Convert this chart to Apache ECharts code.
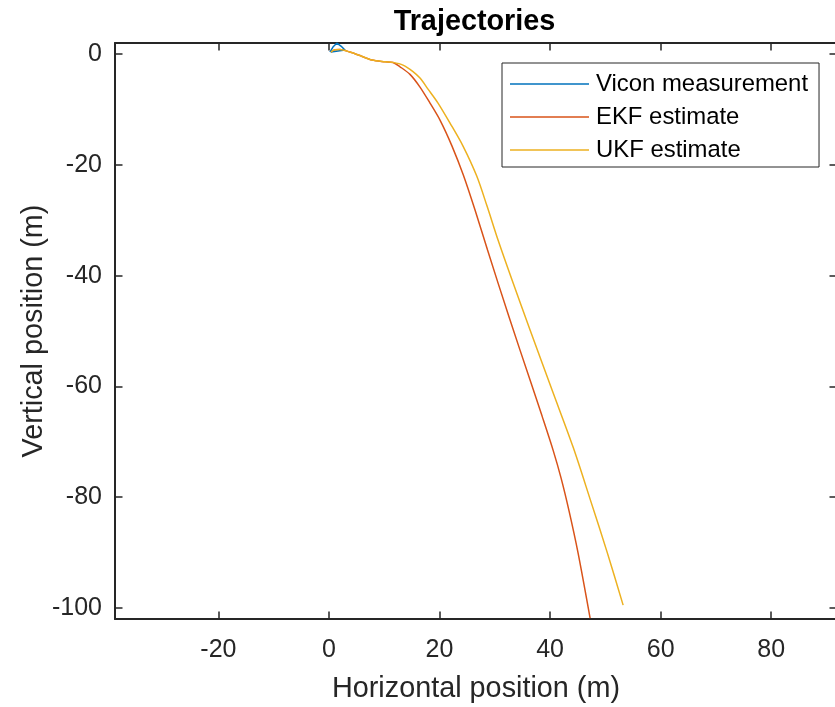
<!DOCTYPE html>
<html>
<head>
<meta charset="utf-8">
<script src="https://cdn.jsdelivr.net/npm/echarts@6/dist/echarts.min.js"></script>
<style>html,body{margin:0;padding:0;background:#fff;overflow:hidden;width:835px;height:707px}#c{width:845px;height:707px}</style>
</head>
<body>
<div id="c"></div>
<script>
var xTicks = [-20, 0, 20, 40, 60, 80];
var yTicks = [-100, -80, -60, -40, -20, 0];

var viconX = [0.181, 0.724, 1.448, 2.172, 2.896, 1.629, 0.362];
var viconY = [0.361, 1.264, 1.986, 1.445, 0.722, 0.542, 0.361];

var ekfX = [0.362, 1.086, 1.991, 3.801, 5.611, 7.783, 10.136, 11.584, 12.851, 14.661, 16.471, 18.281, 20.090, 22.262, 24.308, 26.425, 28.688, 32.579, 36.561, 38.552, 40.543, 41.991, 43.439, 45.068, 47.240];
var ekfY = [0.361, 0.776, 0.813, 0.361, -0.271, -1.083, -1.390, -1.535, -2.293, -3.666, -5.959, -8.848, -11.918, -16.613, -21.849, -28.169, -35.392, -47.490, -59.408, -65.367, -71.506, -76.562, -82.521, -90.105, -101.842];

var ukfX = [0.362, 1.086, 1.991, 3.801, 5.611, 7.783, 10.136, 11.584, 13.394, 15.204, 16.471, 17.919, 19.729, 21.900, 24.253, 26.733, 28.597, 30.588, 33.122, 36.380, 40.362, 44.163, 47.240, 50.317, 53.213];
var ukfY = [0.361, 0.776, 0.813, 0.361, -0.271, -1.083, -1.390, -1.499, -1.986, -3.160, -4.334, -6.320, -8.848, -12.460, -16.613, -22.030, -27.447, -33.586, -40.809, -49.838, -60.672, -70.964, -80.354, -89.924, -99.494];

function pairs(xs, ys) { return xs.map(function (x, i) { return [x, ys[i]]; }); }

var FONT = '"Liberation Sans", Arial, Helvetica, sans-serif';
var AX = '#262626';
var xMin = -38.7, xMax = 91.9, yMin = -102, yMax = 2;

var chart = echarts.init(document.getElementById('c'), null, {renderer: 'canvas', width: 845, height: 707});

function xAxisDef(pos, showLabel) {
  return {
    type: 'value', position: pos, min: xMin, max: xMax,
    axisLine: {show: true, onZero: false, lineStyle: {color: AX, width: 2}},
    axisTick: {show: true, inside: true, length: 7.5, customValues: xTicks, lineStyle: {color: AX, width: 1.5}},
    axisLabel: {show: showLabel, customValues: xTicks, margin: 19, color: AX, fontSize: 25, fontFamily: FONT},
    splitLine: {show: false},
    name: showLabel ? 'Horizontal position (m)' : '',
    nameLocation: 'middle', nameGap: 56, nameMoveOverlap: false,
    nameTextStyle: {color: AX, fontSize: 28.8, fontFamily: FONT}
  };
}
function yAxisDef(pos, showLabel) {
  return {
    type: 'value', position: pos, min: yMin, max: yMax,
    axisLine: {show: showLabel, onZero: false, lineStyle: {color: AX, width: 2}},
    axisTick: {show: true, inside: true, length: 7.5, customValues: yTicks, lineStyle: {color: AX, width: 1.5}},
    axisLabel: {show: showLabel, customValues: yTicks, margin: 13, color: AX, fontSize: 25, fontFamily: FONT},
    splitLine: {show: false},
    name: showLabel ? 'Vertical position (m)' : '',
    nameLocation: 'middle', nameGap: 66, nameMoveOverlap: false,
    nameTextStyle: {color: AX, fontSize: 28.8, fontFamily: FONT}
  };
}

chart.setOption({
  animation: false,
  backgroundColor: '#fff',
  title: {
    text: 'Trajectories', left: 469.5, top: 3, textAlign: 'center',
    textStyle: {fontFamily: FONT, fontSize: 28.8, fontWeight: 'bold', color: '#000'}
  },
  grid: {left: 115, top: 43, width: 722, height: 576, containLabel: false, outerBoundsMode: 'none'},
  xAxis: [xAxisDef('bottom', true), xAxisDef('top', false)],
  yAxis: [yAxisDef('left', true), yAxisDef('right', false)],
  legend: {
    orient: 'vertical', left: 502, top: 63,
    padding: [9, 11, 5, 8],
    itemWidth: 79, itemHeight: 1.5, itemGap: 9,
    icon: 'rect',
    borderColor: AX, borderWidth: 1, backgroundColor: '#fff',
    textStyle: {fontFamily: FONT, fontSize: 23.9, color: '#000', padding: [0, 0, 0, 2]},
    data: ['Vicon measurement', 'EKF estimate', 'UKF estimate']
  },
  series: [
    {name: 'Vicon measurement', type: 'line', data: pairs(viconX, viconY), showSymbol: false, symbol: 'none',
     smooth: false, lineStyle: {color: '#0072BD', width: 1.5}, itemStyle: {color: '#0072BD'}, z: 3},
    {name: 'EKF estimate', type: 'line', data: pairs(ekfX, ekfY), showSymbol: false, symbol: 'none',
     smooth: 0.3, lineStyle: {color: '#D95319', width: 1.5}, itemStyle: {color: '#D95319'}, z: 2},
    {name: 'UKF estimate', type: 'line', data: pairs(ukfX, ukfY), showSymbol: false, symbol: 'none',
     smooth: 0.3, lineStyle: {color: '#EDB120', width: 1.5}, itemStyle: {color: '#EDB120'}, z: 4}
  ]
});
</script>
</body>
</html>
